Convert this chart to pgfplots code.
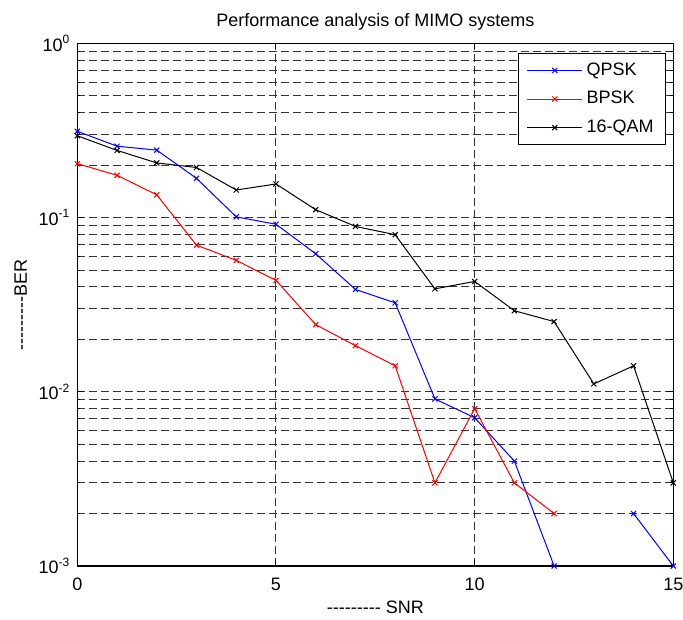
\documentclass[border=0pt]{standalone}
\usepackage{fontspec}
\setmainfont{Liberation Sans}
\usepackage{pgfplots}
\pgfplotsset{compat=1.18}

\newcommand\fnt{\fontsize{9}{10.5}\selectfont}
% plain hyphens, kept apart so that they do not turn into dashes
\newcommand\h{-\kern0pt}

\begin{document}
\begin{tikzpicture}[font=\fnt]
% page size of the reference, axis box at the origin
\useasboundingbox (-38.65pt,-26.5pt) rectangle (302.85pt,283pt);
\begin{axis}[
    at={(0,0)}, anchor=south west,
    scale only axis,
    width=298pt, height=261.3pt,
    ymode=log,
    xmin=0, xmax=15, ymin=1e-3, ymax=1,
    xtick={0,5,10,15},
    ytick={1e-3,1e-2,1e-1,1},
    yticklabels={10\textsuperscript{-3},10\textsuperscript{-2},10\textsuperscript{-1},10\textsuperscript{0}},
    minor ytick={2e-3,3e-3,4e-3,5e-3,6e-3,7e-3,8e-3,9e-3,
                 2e-2,3e-2,4e-2,5e-2,6e-2,7e-2,8e-2,9e-2,
                 2e-1,3e-1,4e-1,5e-1,6e-1,7e-1,8e-1,9e-1},
    /pgf/number format/assume math mode=true,
    grid=both,
    major grid style={black!80, line width=0.5pt, dash pattern=on 4pt off 2pt},
    minor grid style={black!80, line width=0.5pt, dash pattern=on 4pt off 2pt},
    tick align=inside,
    major tick length=3pt, minor tick length=1.5pt,
    every tick/.style={black, line width=0.5pt},
    axis line style={black, line width=0.6pt},
    tick label style={font=\fnt},
    xticklabel style={yshift=-2.5pt},
    label style={font=\fnt},
    title style={font=\fnt, yshift=-3pt},
    title={Performance analysis of MIMO systems},
    xlabel={\h\h\h\h\h\h\h\h\h{} SNR},
    ylabel={\h\h\h\h\h\h\h\h\h BER},
    xlabel style={yshift=2pt},
    ylabel style={yshift=-1pt},
    unbounded coords=jump,
    clip=false,
    legend style={at={(1,1)}, anchor=north east, xshift=-3.6pt, yshift=-4.9pt,
        draw=black, fill=white, line width=0.5pt, font=\fnt,
        inner xsep=4pt, inner ysep=2.5pt, row sep=2.5pt,
        nodes={inner sep=2pt}},
    legend cell align=left,
    legend image code/.code={
        \draw[mark repeat=2, mark phase=2] plot coordinates {(0cm,0cm) (0.48cm,0cm) (0.96cm,0cm)};
    },
    every axis plot/.append style={line width=0.5pt, mark=x, mark size=1.8pt, mark options={solid}},
]

\addplot[blue] coordinates {
    (0,0.313) (1,0.257) (2,0.244) (3,0.168) (4,0.101) (5,0.0916)
    (6,0.062) (7,0.0387) (8,0.0324) (9,0.0091) (10,0.0071) (11,0.004)
    (12,0.001) (13,nan) (14,0.002) (15,0.001)
};
\addlegendentry{QPSK}

\addplot[red] coordinates {
    (0,0.204) (1,0.175) (2,0.135) (3,0.0695) (4,0.0568) (5,0.0436)
    (6,0.0243) (7,0.0184) (8,0.0141) (9,0.003) (10,0.008) (11,0.003)
    (12,0.002)
};
\addlegendentry{BPSK}

\addplot[black] coordinates {
    (0,0.295) (1,0.243) (2,0.206) (3,0.194) (4,0.144) (5,0.156)
    (6,0.111) (7,0.089) (8,0.0798) (9,0.039) (10,0.043) (11,0.0292)
    (12,0.0253) (13,0.0111) (14,0.0141) (15,0.003)
};
\addlegendentry{16-QAM}

\end{axis}
\end{tikzpicture}
\end{document}
